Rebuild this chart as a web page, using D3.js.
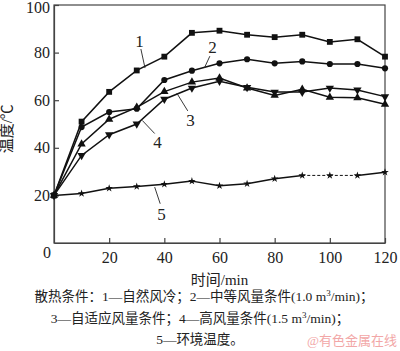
<!DOCTYPE html>
<html>
<head>
<meta charset="utf-8">
<script src="https://cdn.jsdelivr.net/npm/d3@7"></script>
<style>
  body { margin: 0; background: #fff; }
  svg text { font-family: "Liberation Serif", "Noto Sans CJK SC", serif; fill: #222; }
</style>
</head>
<body>
<div id="chart"></div>
<script>
// time (min) and temperatures
let times = [0, 10, 20, 30, 40, 50, 60, 70, 80, 90, 100, 110, 120]
let natural  = [20, 51, 63.5, 72.5, 78.3, 88.3, 89.2, 87.5, 86.5, 87.5, 84.5, 85.6, 78.3]
let medium   = [20, 48.7, 55, 56.4, 68.5, 72.4, 75.5, 77.2, 75.5, 76.3, 75.2, 75.2, 73.4]
let adaptive = [20, 41.6, 52, 57, 63.6, 67.6, 69.3, 65.1, 62, 64.6, 61.2, 61, 58.3]
let high     = [20, 36.8, 45.5, 50, 60.4, 65.1, 68, 65.4, 63.4, 63.4, 65.1, 64.3, 61.5]
let ambient  = [20, 20.8, 23, 23.7, 24.7, 26, 24.1, 24.9, 27, 28.4, 28.4, 28.4, 29.7]
let xTicks = [20, 40, 60, 80, 100, 120]
let yTicks = [20, 40, 60, 80, 100]
let seriesNames = ["1", "2", "3", "4", "5"]

let margin = {top: 5, right: 15, bottom: 108, left: 54},
    width = 400 - margin.left - margin.right,
    height = 351 - margin.top - margin.bottom;

let svg = d3.select("#chart")
    .append("svg")
    .attr("width", 400)
    .attr("height", 351)

let g = svg.append("g")
    .attr("transform", "translate(" + margin.left + "," + margin.top + ")");

let x = d3.scaleLinear().domain([0, 120]).range([0, width])
let y = d3.scaleLinear().domain([0, 100]).range([height, 0])

// frame (top + right)
g.append("rect")
    .attr("width", width).attr("height", height)
    .attr("fill", "none").attr("stroke", "#444").attr("stroke-width", 1.2)

// axes, ticks pointing inward
let xAxis = g.append("g")
    .attr("transform", "translate(0," + height + ")")
    .call(d3.axisBottom(x).tickValues(xTicks).tickSizeInner(-5).tickSizeOuter(0).tickPadding(9))
let yAxis = g.append("g")
    .call(d3.axisLeft(y).tickValues(yTicks).tickSizeInner(-5).tickSizeOuter(0).tickPadding(5))
for (let ax of [xAxis, yAxis]) {
    ax.selectAll("path, line").attr("stroke", "#444").attr("stroke-width", 1.2)
    ax.selectAll("text").attr("font-size", 16).attr("fill", "#222")
        .attr("font-family", "Liberation Serif, serif")
}
yAxis.selectAll("text").attr("dx", 1)
// keep the top label inside the page
yAxis.selectAll(".tick").filter(function(d) { return d === 100 })
    .select("text").attr("y", 2)
// shared origin label
g.append("text").attr("x", -7).attr("y", height + 15)
    .attr("text-anchor", "middle").attr("font-size", 16).text("0")

// axis titles
g.append("text")
    .attr("transform", "translate(-42," + y(48) + ") rotate(-90)")
    .attr("text-anchor", "middle").attr("font-size", 15).text("温度/℃")
g.append("text")
    .attr("x", x(60)).attr("y", height + 42)
    .attr("text-anchor", "middle").attr("font-size", 15).text("时间/min")

let series = [natural, medium, adaptive, high, ambient]
let symbols = [
    {type: d3.symbolSquare, size: 34, rot: 0},
    {type: d3.symbolCircle, size: 30, rot: 0},
    {type: d3.symbolTriangle, size: 30, rot: 0},
    {type: d3.symbolTriangle, size: 30, rot: 180},
    {type: d3.symbolStar, size: 18, rot: 0}
]

let line = d3.line()
    .x(function(d) { return x(d[0]) })
    .y(function(d) { return y(d[1]) })

series.forEach(function(vals, i) {
    let pts = times.map(function(t, j) { return [t, vals[j]] })
    if (i === 4) {
        // ambient curve is dashed between 90 and 110 min
        for (let j = 0; j < pts.length - 1; j++) {
            let dashed = pts[j][0] >= 90 && pts[j][0] < 110
            g.append("path").datum([pts[j], pts[j + 1]])
                .attr("fill", "none").attr("stroke", "#111")
                .attr("stroke-width", dashed ? 1 : 1.5)
                .attr("stroke-dasharray", dashed ? "3,2" : null)
                .attr("d", line)
        }
    } else {
        g.append("path").datum(pts)
            .attr("fill", "none").attr("stroke", "#111").attr("stroke-width", 1.5)
            .attr("d", line)
    }
    g.selectAll(null).data(pts).enter().append("path")
        .attr("d", d3.symbol().type(symbols[i].type).size(symbols[i].size))
        .attr("fill", "#111")
        .attr("transform", function(d) {
            return "translate(" + x(d[0]) + "," + y(d[1]) + ") rotate(" + symbols[i].rot + ")"
        })
})

// curve labels with leader lines (data units)
let labelPos = [[31, 85], [57.5, 82.5], [49.5, 51.5], [37.5, 42.5], [39, 12]]
let leaderFrom = [[31.5, 81.5], [56.5, 78.5], [44.5, 63], [32, 51.5], [36.5, 23.5]]
let leaderTo = [[33, 73.5], [54.5, 73.5], [48.5, 55.5], [36.5, 46], [38.5, 16.5]]
seriesNames.forEach(function(name, i) {
    g.append("line")
        .attr("x1", x(leaderFrom[i][0])).attr("y1", y(leaderFrom[i][1]))
        .attr("x2", x(leaderTo[i][0])).attr("y2", y(leaderTo[i][1]))
        .attr("stroke", "#222").attr("stroke-width", 0.9)
    g.append("text")
        .attr("x", x(labelPos[i][0])).attr("y", y(labelPos[i][1]))
        .attr("dy", "0.35em").attr("text-anchor", "middle")
        .attr("font-size", 17).text(name)
})

// caption
let caption = svg.append("text").attr("font-size", 13.5).attr("text-anchor", "middle")
let l1 = caption.append("tspan").attr("x", 204).attr("y", 301)
l1.append("tspan").text("散热条件：1—自然风冷；2—中等风量条件(1.0 m")
l1.append("tspan").attr("dy", -5).attr("font-size", 9).text("3")
l1.append("tspan").attr("dy", 5).text("/min)；")
let l2 = caption.append("tspan").attr("x", 200).attr("y", 323)
l2.append("tspan").text("3—自适应风量条件；4—高风量条件(1.5 m")
l2.append("tspan").attr("dy", -5).attr("font-size", 9).text("3")
l2.append("tspan").attr("dy", 5).text("/min)；")
caption.append("tspan").attr("x", 200).attr("y", 344).text("5—环境温度。")

// watermark
svg.append("text").attr("x", 397).attr("y", 345)
    .attr("text-anchor", "end").attr("font-size", 13)
    .attr("font-family", "Noto Sans CJK SC, sans-serif")
    .style("fill", "#f2a7a7").text("@有色金属在线")
</script>
</body>
</html>
